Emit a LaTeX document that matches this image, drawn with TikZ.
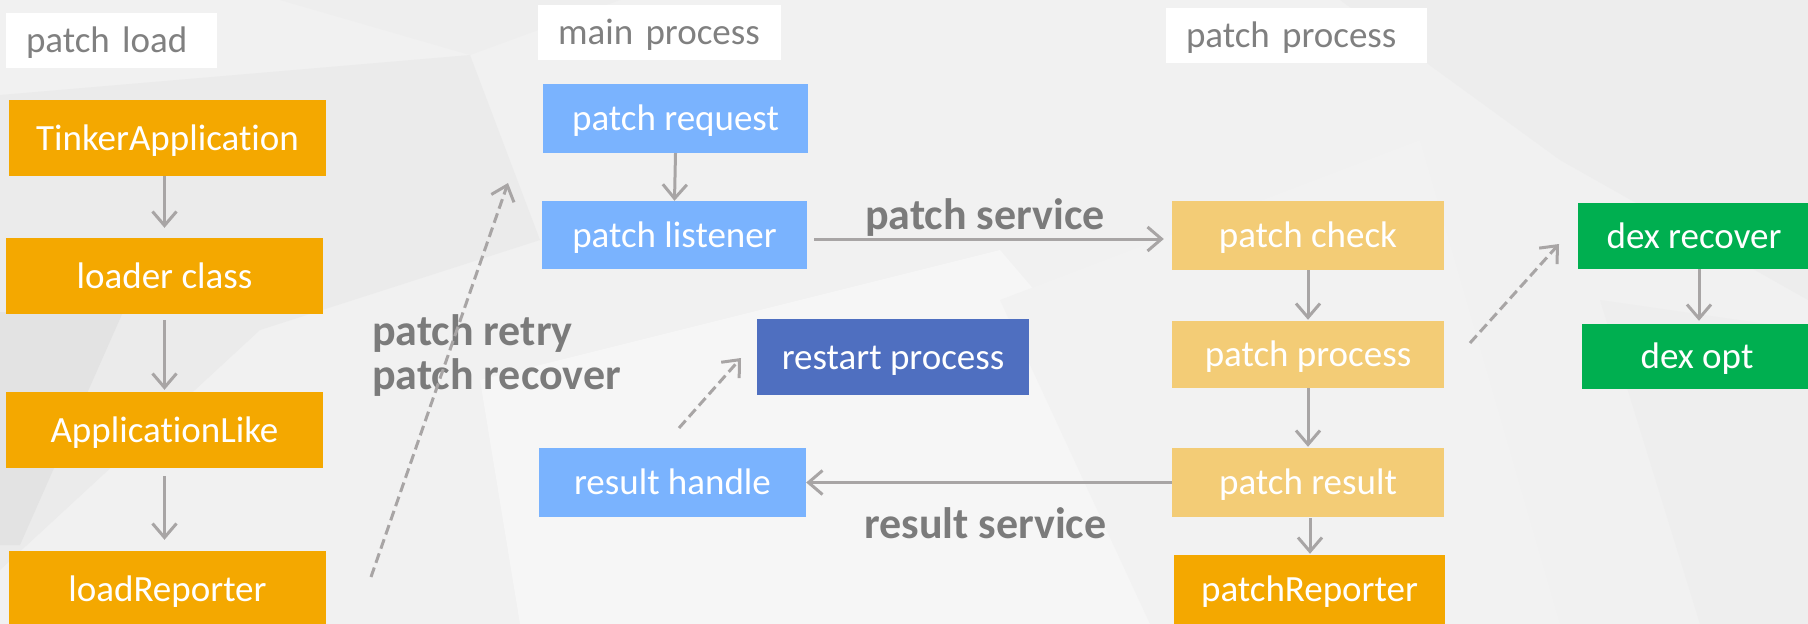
\documentclass[tikz,border=0pt]{standalone}
\usepackage{fontspec}
\setmainfont{Carlito}[Ligatures={NoCommon,NoRequired,NoContextual}]
\usetikzlibrary{arrows.meta}
\definecolor{bg}{HTML}{F1F1F1}
\definecolor{orng}{HTML}{F4A800}
\definecolor{lblue}{HTML}{7AB3FE}
\definecolor{dblue}{HTML}{4F6FC0}
\definecolor{pyel}{HTML}{F3CC76}
\definecolor{grn}{HTML}{00AF50}
\definecolor{arr}{HTML}{A8A5A5}
\definecolor{txtg}{HTML}{808080}
\definecolor{notec}{HTML}{7B7B7B}
\begin{document}
\begin{tikzpicture}[x=1pt,y=-1pt,
  box/.style={rectangle, inner sep=0pt, text=white, text height=28pt, text depth=4pt,
    font=\fontsize{37}{44}\selectfont},
  lbl/.style={rectangle, fill=white, inner ysep=0pt, inner xsep=20pt, align=left, text=txtg,
    text height=28pt, text depth=4pt, font=\fontsize{37}{44}\selectfont},
  flow/.style={draw=arr, line width=3pt, -{Straight Barb[length=14pt,width=24pt]}},
  hint/.style={flow, dash pattern=on 10pt off 5pt},
  note/.style={text=notec, font=\bfseries\fontsize{44}{44}\selectfont, inner sep=0pt, align=left}
]
\useasboundingbox (0,0) rectangle (1808,624);
\clip (0,0) rectangle (1808,624);
% background
\fill[bg] (0,0) rectangle (1808,624);
\fill[black!8] (0,95) -- (470,55) -- (540,240) -- (260,330) -- (0,570) -- cycle;
\fill[black!6.5] (280,0) -- (620,0) -- (470,55) -- cycle;
\fill[black!11] (0,312) -- (123,312) -- (20,545) -- (0,545) -- cycle;
\fill[white!35!bg] (480,380) -- (1000,250) -- (1320,624) -- (520,624) -- cycle;
\fill[black!7] (1340,0) -- (1808,0) -- (1808,300) -- (1560,160) -- cycle;
\fill[black!5] (1000,300) -- (1420,140) -- (1560,624) -- (1150,624) -- cycle;
\fill[black!6.5] (1600,300) -- (1808,330) -- (1808,624) -- (1700,624) -- cycle;

% section labels
\node[lbl, text width=171pt, minimum height=55pt] (lload) at (111.5,40.5) {patch load};
\node[lbl, text width=203pt, minimum height=55pt] (lmain) at (659.5,32.5) {main process};
\node[lbl, text width=221pt, minimum height=55pt] (lpatch) at (1296.5,35.5) {patch process};

% left column
\node[box, fill=orng, minimum width=317pt, minimum height=76pt] (ta) at (167.5,138) {TinkerApplication};
\node[box, fill=orng, minimum width=317pt, minimum height=76pt] (lc) at (164.5,276) {loader class};
\node[box, fill=orng, minimum width=317pt, minimum height=76pt] (al) at (164.5,430) {ApplicationLike};
\node[box, fill=orng, minimum width=317pt, minimum height=76pt] (lr) at (167.5,589) {loadReporter};

% main process
\node[box, fill=lblue, minimum width=265pt, minimum height=69pt] (preq) at (675.5,118.5) {patch request};
\node[box, fill=lblue, minimum width=265pt, minimum height=68pt] (plis) at (674.5,235) {patch listener};
\node[box, fill=dblue, minimum width=272pt, minimum height=76pt] (rest) at (893,357) {restart process};
\node[box, fill=lblue, minimum width=267pt, minimum height=69pt] (rh) at (672.5,482.5) {result handle};

% patch process
\node[box, fill=pyel, minimum width=272pt, minimum height=69pt] (pc) at (1308,235.5) {patch check};
\node[box, fill=pyel, minimum width=272pt, minimum height=67pt] (pp) at (1308,354.5) {patch process};
\node[box, fill=pyel, minimum width=272pt, minimum height=69pt] (pres) at (1308,482.5) {patch result};
\node[box, fill=orng, minimum width=271pt, minimum height=69pt] (prep) at (1309.5,589.5) {patchReporter};

% dex
\node[box, fill=grn, minimum width=232pt, minimum height=66pt] (dr) at (1694,236) {dex recover};
\node[box, fill=grn, minimum width=230pt, minimum height=65pt] (dopt) at (1697,356.5) {dex opt};

% notes
\node[note, anchor=base west] (nserv) at (865,229) {patch service};
\node[note, anchor=base west] (nres) at (864,538) {result service};
\node[note, anchor=base west] (nretry) at (372,389) {patch retry\\patch recover};

% connectors
\draw[flow, shorten >=10pt] (lc.north |- ta.south) -- (lc.north);
\draw[flow, shorten <=6pt, shorten >=2pt] (lc.south) -- (al.north);
\draw[flow, shorten <=8pt, shorten >=11pt] (al.south) -- (al.south |- lr.north);
\draw[flow] (preq.south) -- (plis.north);
\coordinate (s1) at ([yshift=-4pt]plis.east);
\draw[flow, shorten <=7pt, shorten >=8pt] (s1) -- (s1 -| pc.west);
\draw[flow, shorten >=1pt] (pc.south) -- (pp.north);
\draw[flow, shorten >=1pt] (pp.south) -- (pres.north);
\draw[flow, shorten <=1pt, shorten >=1pt] ([xshift=2pt]pres.south) -- ([xshift=2pt]pres.south |- prep.north);
\draw[flow] (pres.west) -- (rh.east);
\draw[flow, shorten >=3pt] ([xshift=5pt]dr.south) -- ([xshift=5pt]dr.south |- dopt.north);

% dashed hints
\coordinate (d1s) at (371,577);
\coordinate (d1e) at (508,183);
\coordinate (d2s) at (679,428);
\coordinate (d2e) at (741,358);
\coordinate (d3s) at (1470,343);
\coordinate (d3e) at (1559,244);
\draw[hint] (d1s) -- (d1e);
\draw[hint] (d2s) -- (d2e);
\draw[hint] (d3s) -- (d3e);
\end{tikzpicture}
\end{document}
